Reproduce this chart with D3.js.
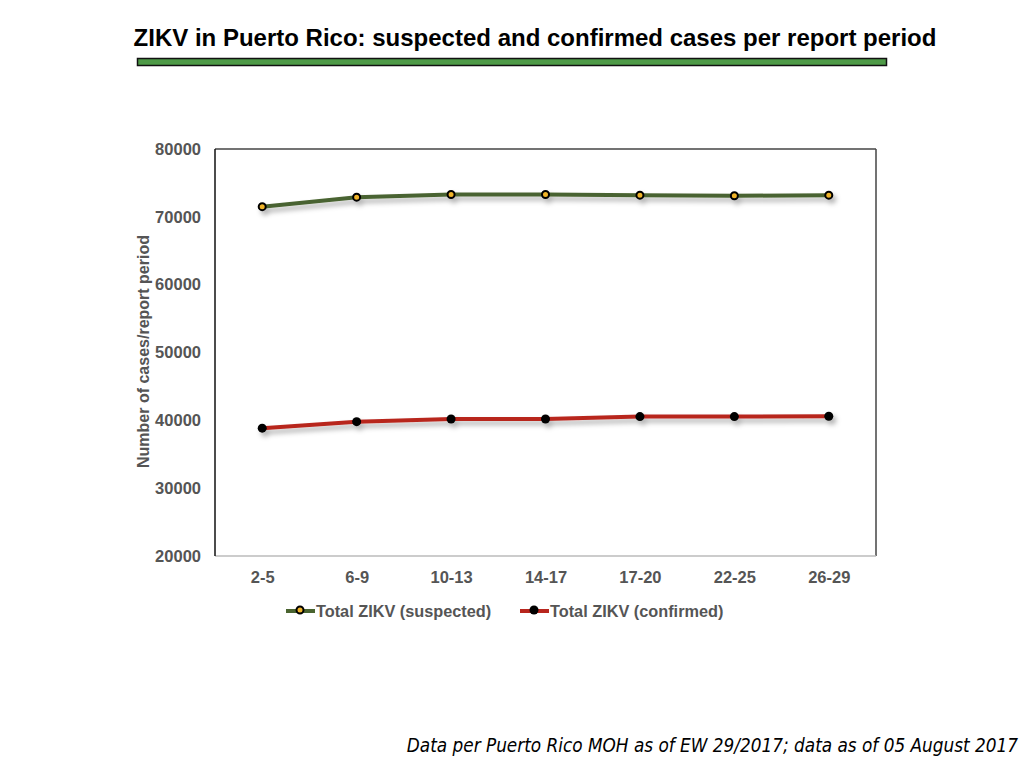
<!DOCTYPE html>
<html lang="en">
<head>
<meta charset="UTF-8">
<title>ZIKV in Puerto Rico</title>
<script src="https://d3js.org/d3.v7.min.js"></script>
<style>
    body { margin: 0; background: #fff; }
    svg text { font-family: "Liberation Sans", Arial, sans-serif; }
</style>
</head>
<body>
<div id="chart"></div>
<script>
    // report periods (epi weeks) and values
    const periods = ["2-5", "6-9", "10-13", "14-17", "17-20", "22-25", "26-29"];
    const suspected = [71500, 72900, 73300, 73300, 73200, 73100, 73200];
    const confirmed = [38850, 39800, 40200, 40200, 40550, 40550, 40600];
    const yTicks = [20000, 30000, 40000, 50000, 60000, 70000, 80000];

    const W = 1024, H = 768;
    const margin = { top: 149, right: 148, bottom: 212, left: 215 },
        width = W - margin.left - margin.right,
        height = H - margin.top - margin.bottom;

    const svg = d3.select("#chart").append("svg")
        .attr("width", W)
        .attr("height", H);

    const defs = svg.append("defs");
    const shadow = defs.append("filter").attr("id", "shadow")
        .attr("x", "-10%").attr("y", "-50%").attr("width", "120%").attr("height", "300%");
    shadow.append("feDropShadow")
        .attr("dx", 3).attr("dy", 4).attr("stdDeviation", 2.5)
        .attr("flood-color", "#000").attr("flood-opacity", 0.3);

    // title + green bar
    svg.append("text")
        .attr("x", 535).attr("y", 46)
        .attr("text-anchor", "middle")
        .style("font-size", "24px")
        .style("font-weight", "bold")
        .attr("fill", "#000")
        .text("ZIKV in Puerto Rico: suspected and confirmed cases per report period");

    svg.append("rect")
        .attr("x", 137.5).attr("y", 58.5)
        .attr("width", 749).attr("height", 7)
        .attr("fill", "#4e9a47")
        .attr("stroke", "#111").attr("stroke-width", 1.5);

    const g = svg.append("g")
        .attr("transform", "translate(" + margin.left + "," + margin.top + ")");

    const x = d3.scalePoint()
        .domain(periods)
        .range([0, width])
        .padding(0.5);

    const y = d3.scaleLinear()
        .domain([20000, 80000])
        .range([height, 0]);

    // frame
    g.append("line").attr("x1", 0).attr("x2", width).attr("y1", 0).attr("y2", 0)
        .attr("stroke", "#444").attr("stroke-width", 1.5);
    g.append("line").attr("x1", width).attr("x2", width).attr("y1", 0).attr("y2", height)
        .attr("stroke", "#444").attr("stroke-width", 1.5);
    g.append("line").attr("x1", 0).attr("x2", width).attr("y1", height).attr("y2", height)
        .attr("stroke", "#bbb").attr("stroke-width", 1.5);
    g.append("line").attr("x1", 0).attr("x2", 0).attr("y1", 0).attr("y2", height)
        .attr("stroke", "#111").attr("stroke-width", 1.5);

    // axes (labels only)
    const yAxis = g.append("g")
        .call(d3.axisLeft(y).tickValues(yTicks).tickSize(0).tickPadding(14).tickFormat(d3.format("d")));
    yAxis.select(".domain").remove();
    yAxis.selectAll("text")
        .attr("fill", "#555")
        .style("font-size", "16.5px")
        .style("font-weight", "bold");

    const xAxis = g.append("g")
        .attr("transform", "translate(0," + height + ")")
        .call(d3.axisBottom(x).tickSize(0).tickPadding(15));
    xAxis.select(".domain").remove();
    xAxis.selectAll("text")
        .attr("fill", "#555")
        .style("font-size", "16.5px")
        .style("font-weight", "bold");

    svg.append("text")
        .attr("transform", "translate(149," + (margin.top + height / 2 - 1) + ") rotate(-90)")
        .attr("text-anchor", "middle")
        .attr("fill", "#555")
        .style("font-size", "16px")
        .style("font-weight", "bold")
        .text("Number of cases/report period");

    const series = [
        { name: "Total ZIKV (suspected)", values: suspected, color: "#4a6430", dot: "#f0b429" },
        { name: "Total ZIKV (confirmed)", values: confirmed, color: "#b8261e", dot: "#000" }
    ];

    const line = d3.line()
        .x((d, i) => x(periods[i]))
        .y(d => y(d));

    series.forEach(function (s) {
        const sg = g.append("g").attr("filter", "url(#shadow)");
        sg.append("path")
            .datum(s.values)
            .attr("fill", "none")
            .attr("stroke", s.color)
            .attr("stroke-width", 4)
            .attr("d", line);
        sg.selectAll("circle")
            .data(s.values)
            .enter()
            .append("circle")
            .attr("cx", (d, i) => x(periods[i]))
            .attr("cy", d => y(d))
            .attr("r", s.dot === "#000" ? 4.5 : 3.5)
            .attr("fill", s.dot)
            .attr("stroke", "#000")
            .attr("stroke-width", s.dot === "#000" ? 0 : 2);
    });

    // legend
    const legendX = [286, 520];
    series.forEach(function (s, i) {
        const lg = svg.append("g").attr("transform", "translate(" + legendX[i] + ",611)");
        lg.append("line").attr("x1", 0).attr("x2", 29).attr("y1", 0).attr("y2", 0)
            .attr("stroke", s.color).attr("stroke-width", 4);
        lg.append("circle").attr("cx", 14).attr("cy", -1)
            .attr("r", s.dot === "#000" ? 4.5 : 3.5)
            .attr("fill", s.dot)
            .attr("stroke", "#000")
            .attr("stroke-width", s.dot === "#000" ? 0 : 2);
        lg.append("text")
            .attr("x", 30).attr("y", 6)
            .attr("fill", "#555")
            .style("font-size", "16.3px")
            .style("font-weight", "bold")
            .text(s.name);
    });

    // source note
    svg.append("text")
        .attr("x", 1018).attr("y", 752)
        .attr("text-anchor", "end")
        .attr("fill", "#000")
        .style("font-size", "18.8px")
        .style("font-style", "italic")
        .style("font-family", "'DejaVu Sans', sans-serif")
        .style("font-stretch", "condensed")
        .text("Data per Puerto Rico MOH as of EW 29/2017; data as of 05 August 2017");
</script>
</body>
</html>
